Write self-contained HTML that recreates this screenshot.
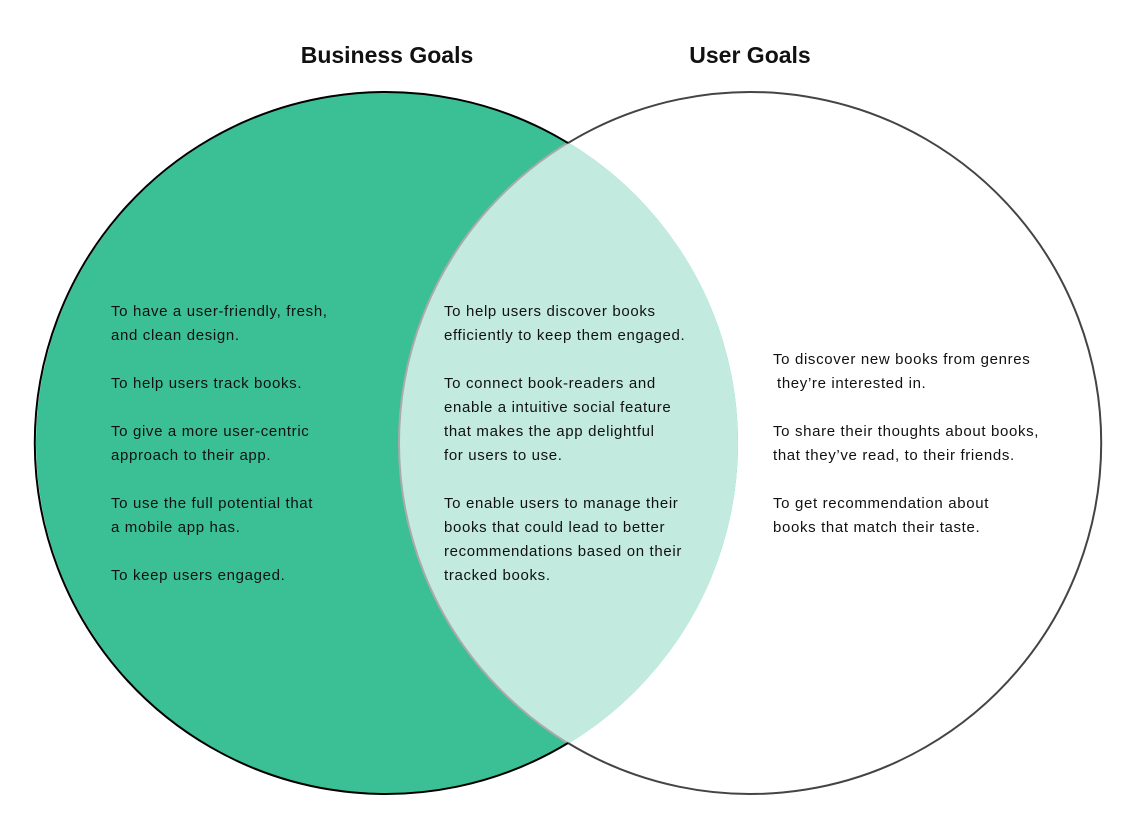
<!DOCTYPE html>
<html><head><meta charset="utf-8"><style>
html,body{margin:0;padding:0;background:#fff;width:1146px;height:831px;overflow:hidden}
svg{display:block}
text{font-family:"Liberation Sans",sans-serif;fill:#111}
.t{font-size:15px;letter-spacing:0.65px}
.h{font-size:23px;font-weight:bold}
</style></head><body>
<svg width="1146" height="831" viewBox="0 0 1146 831">
<defs>
<clipPath id="cl"><circle cx="387" cy="443" r="351"/></clipPath>
</defs>
<circle cx="387" cy="443" r="351" fill="#3bbf94"/>
<circle cx="750" cy="443" r="351" fill="#c3eadf" clip-path="url(#cl)"/>
<circle cx="750" cy="443" r="351" fill="none" stroke="#aaa" stroke-width="2" clip-path="url(#cl)"/>
<path d="M568,143 A351,351 0 1 1 568,743" fill="none" stroke="#444" stroke-width="2"/>
<path d="M568,143 A351,351 0 1 0 568,743" fill="none" stroke="#000" stroke-width="2"/>
<text class="h" x="387" y="63" text-anchor="middle">Business Goals</text>
<text class="h" x="750" y="63" text-anchor="middle">User Goals</text>
<g>
<text class="t" x="111" y="316">To have a user-friendly, fresh,</text>
<text class="t" x="111" y="340">and clean design.</text>
<text class="t" x="111" y="388">To help users track books.</text>
<text class="t" x="111" y="436">To give a more user-centric</text>
<text class="t" x="111" y="460">approach to their app.</text>
<text class="t" x="111" y="508">To use the full potential that</text>
<text class="t" x="111" y="532">a mobile app has.</text>
<text class="t" x="111" y="580">To keep users engaged.</text>
<text class="t" x="444" y="316">To help users discover books</text>
<text class="t" x="444" y="340">efficiently to keep them engaged.</text>
<text class="t" x="444" y="388">To connect book-readers and</text>
<text class="t" x="444" y="412">enable a intuitive social feature</text>
<text class="t" x="444" y="436">that makes the app delightful</text>
<text class="t" x="444" y="460">for users to use.</text>
<text class="t" x="444" y="508">To enable users to manage their</text>
<text class="t" x="444" y="532">books that could lead to better</text>
<text class="t" x="444" y="556">recommendations based on their</text>
<text class="t" x="444" y="580">tracked books.</text>
<text class="t" x="773" y="364">To discover new books from genres</text>
<text class="t" x="777" y="388">they’re interested in.</text>
<text class="t" x="773" y="436">To share their thoughts about books,</text>
<text class="t" x="773" y="460">that they’ve read, to their friends.</text>
<text class="t" x="773" y="508">To get recommendation about</text>
<text class="t" x="773" y="532">books that match their taste.</text>
</g>
</svg>
</body></html>
